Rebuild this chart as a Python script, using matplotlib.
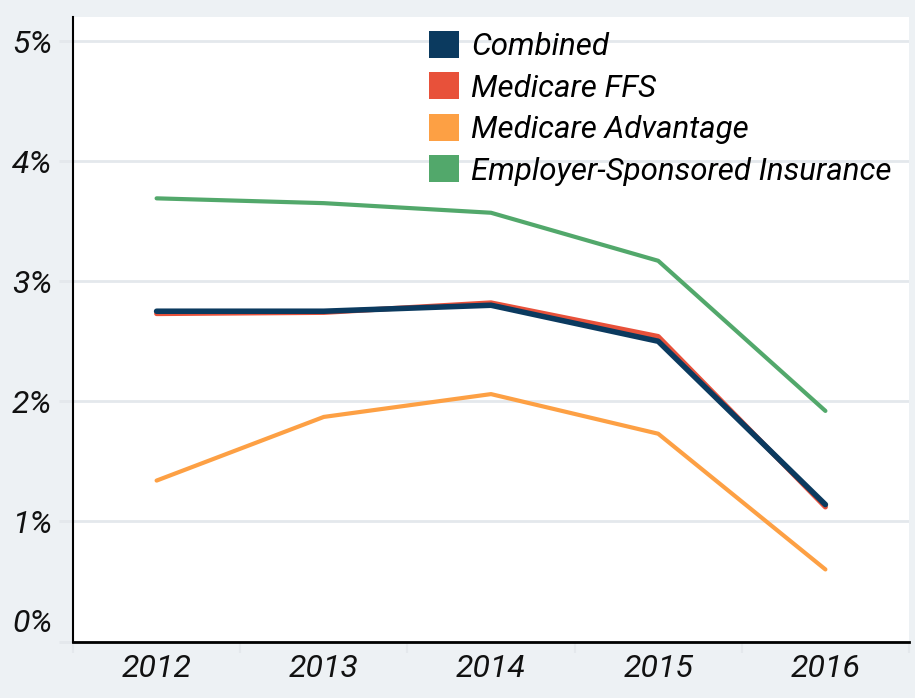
import matplotlib
matplotlib.use("Agg")
import matplotlib.pyplot as plt
from matplotlib.patches import Patch
from matplotlib.ticker import FixedLocator
from matplotlib.transforms import ScaledTranslation

years = [2012, 2013, 2014, 2015, 2016]
series_names = ["Combined", "Medicare FFS", "Medicare Advantage", "Employer-Sponsored Insurance"]
combined = [2.75, 2.75, 2.80, 2.50, 1.14]
medicare_ffs = [2.73, 2.74, 2.82, 2.54, 1.12]
medicare_adv = [1.34, 1.87, 2.06, 1.73, 0.60]
employer = [3.69, 3.65, 3.57, 3.17, 1.92]
y_ticks = [0, 1, 2, 3, 4, 5]
y_labels = ["0%", "1%", "2%", "3%", "4%", "5%"]

colors = {"Combined": "#0b3a5f", "Medicare FFS": "#e8513a",
          "Medicare Advantage": "#fda044", "Employer-Sponsored Insurance": "#52a86b"}
values = {"Combined": combined, "Medicare FFS": medicare_ffs,
          "Medicare Advantage": medicare_adv, "Employer-Sponsored Insurance": employer}
z = {"Combined": 5, "Medicare FFS": 4, "Medicare Advantage": 3, "Employer-Sponsored Insurance": 3}
lw = {"Combined": 4.0, "Medicare FFS": 3.6, "Medicare Advantage": 3.0, "Employer-Sponsored Insurance": 3.0}

plt.rcParams['font.family'] = ['Roboto', 'DejaVu Sans']
bg = "#edf1f4"
fig = plt.figure(figsize=(9.15, 6.98), dpi=100, facecolor=bg)
ax = fig.add_axes([73/915, 1-641.5/698, (909-73)/915, (641.5-17)/698])
ax.set_facecolor("white")

for name in series_names:
    ax.plot(years, values[name], color=colors[name], lw=lw[name], zorder=z[name],
            solid_capstyle="round", solid_joinstyle="round")

ax.set_xlim(2011.5, 2016.5)
ax.set_ylim(0, 5.2)
ax.set_yticks(y_ticks)
ax.set_yticklabels(y_labels, fontsize=23, style="italic", color="#111111")
ax.set_xticks(years)
ax.set_xticklabels([str(y) for y in years], fontsize=23, style="italic", color="#111111")
ax.xaxis.set_minor_locator(FixedLocator([2011.5, 2012.5, 2013.5, 2014.5, 2015.5, 2016.5]))
ax.tick_params(axis="x", which="major", length=0, pad=9)
ax.tick_params(axis="x", which="minor", length=8, width=1.5, color="#e4e8ec")
ax.tick_params(axis="y", length=10, width=2, color="#e4e8ec", pad=5)
ax.grid(axis="y", color="#e4e8ec", lw=2, zorder=0)
ax.set_axisbelow(True)
for s in ["top", "right"]:
    ax.spines[s].set_visible(False)
ax.spines["left"].set_linewidth(1.5)
ax.spines["bottom"].set_linewidth(2)

# lift the 0% label above the axis line as in the reference
fig.canvas.draw()
lbl0 = ax.get_yticklabels()[0]
lbl0.set_transform(lbl0.get_transform() + ScaledTranslation(0, 21/100, fig.dpi_scale_trans))

handles = [Patch(facecolor=colors[n], edgecolor="none", label=n) for n in series_names]
leg = fig.legend(handles=handles, loc="upper left", bbox_to_anchor=(429/915, 1-31/698),
                 frameon=False, handlelength=0.95, handleheight=0.95,
                 handletextpad=0.4, labelspacing=0.36, borderpad=0, borderaxespad=0,
                 prop={"style": "italic", "size": 22.5})

fig.savefig("out.png", dpi=100, facecolor=bg)
